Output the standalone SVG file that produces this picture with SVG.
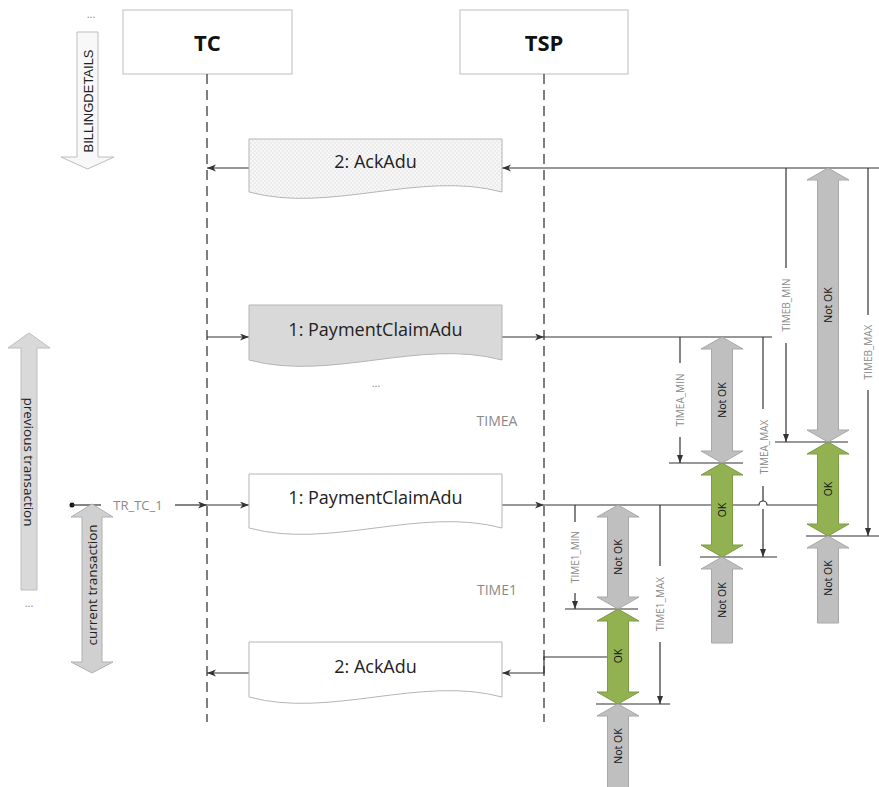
<svg xmlns="http://www.w3.org/2000/svg" width="879" height="787" viewBox="0 0 879 787">
<style>
text{font-family:"Open Sans","Liberation Sans",sans-serif}
.msg{font-size:18px;fill:#222;text-anchor:middle}
.hdr{font-size:22px;font-weight:bold;fill:#111;text-anchor:middle}
.tm{font-size:10px;fill:#8a8a8a;text-anchor:middle;dominant-baseline:central}
.ok{font-size:10.5px;fill:#111;text-anchor:middle;dominant-baseline:central}
.side{font-size:13.5px;fill:#222;text-anchor:middle;dominant-baseline:central}
.gtx{font-size:14px;fill:#8a8a8a;text-anchor:middle}
.life{stroke:#555;stroke-width:1.5;stroke-dasharray:10 6;fill:none}
.ln{stroke:#333;stroke-width:1.2;fill:none}
.tick{stroke:#333;stroke-width:1.2;fill:none}
.gray{fill:#bfbfbf;stroke:#a8a8a8;stroke-width:1}
.green{fill:#92b151;stroke:#7d9a45;stroke-width:1}
.box{stroke:#b5b5b5;stroke-width:1}
.hbox{fill:#fff;stroke:#c8c8c8;stroke-width:1.2}
</style>
<defs>
<marker id="ah" markerUnits="userSpaceOnUse" markerWidth="10" markerHeight="8" refX="9" refY="3.5" orient="auto">
<path d="M0,0 L9,3.5 L0,7 L2.5,3.5 z" fill="#333"/>
</marker>
<marker id="sa" markerUnits="userSpaceOnUse" markerWidth="8" markerHeight="7" refX="8" refY="3" orient="auto">
<path d="M0,0 L8,3 L0,6 z" fill="#333"/>
</marker>
<pattern id="chk" width="4" height="4" patternUnits="userSpaceOnUse">
<rect width="4" height="4" fill="#f7f7f7"/>
<rect width="2" height="2" fill="#ececec"/>
<rect x="2" y="2" width="2" height="2" fill="#ececec"/>
</pattern>
</defs>
<rect width="879" height="787" fill="#fff"/>

<!-- left side annotations -->
<g id="billingdetails">
<text x="91" y="18" class="gtx" style="font-size:11px">...</text>
<path d="M77,32 H98 V157 H114 L87.5,169 L61,157 H77 Z" fill="#f8f8f8" stroke="#bdbdbd"/>
<text class="side" transform="translate(88,101) rotate(-90)" style="font-family:'Liberation Sans',sans-serif;font-size:13px">BILLINGDETAILS</text>
</g>
<g id="previous-transaction">
<path d="M29,333 L50,348 H37 V590 H21 V348 H8 Z" fill="#d9d9d9" stroke="#bdbdbd"/>
<text class="side" transform="translate(29,462) rotate(90)">previous transaction</text>
<text x="29" y="607" class="gtx" style="font-size:11px">...</text>
</g>

<!-- lifelines -->
<g id="TC">
<rect x="123" y="10" width="169" height="64" class="hbox"/>
<text x="207.5" y="51" class="hdr">TC</text>
<line x1="207" y1="74" x2="207" y2="722" class="life"/>
</g>
<g id="TSP">
<rect x="460" y="10" width="168" height="64" class="hbox"/>
<text x="544" y="51" class="hdr">TSP</text>
<line x1="544" y1="74" x2="544" y2="722" class="life"/>
</g>

<!-- connectors -->
<g id="connectors">
<line x1="879" y1="168" x2="502" y2="168" class="ln" marker-end="url(#ah)"/>
<line x1="249" y1="168" x2="207" y2="168" class="ln" marker-end="url(#ah)"/>
<line x1="207" y1="337" x2="249" y2="337" class="ln" marker-end="url(#ah)"/>
<line x1="502" y1="337" x2="544" y2="337" class="ln" marker-end="url(#ah)"/>
<line x1="544" y1="337" x2="772" y2="337" class="ln"/>
<circle cx="72" cy="505" r="2.5" fill="#111"/>
<line x1="72" y1="505" x2="101" y2="505" class="ln"/>
<line x1="175" y1="505" x2="207" y2="505" class="ln" marker-end="url(#ah)"/>
<line x1="207" y1="505" x2="249" y2="505" class="ln" marker-end="url(#ah)"/>
<line x1="502" y1="505" x2="544" y2="505" class="ln" marker-end="url(#ah)"/>
<path d="M544,505 H759 A4,4 0 0 1 767,505 H817" class="ln"/>
<line x1="249" y1="673" x2="207" y2="673" class="ln" marker-end="url(#ah)"/>
<polyline points="608,657 544,657 544,673 502,673" class="ln" marker-end="url(#ah)"/>

<line x1="786" y1="168" x2="786" y2="268" class="ln"/>
<line x1="786" y1="343" x2="786" y2="442" class="ln" marker-end="url(#sa)"/>
<line x1="868" y1="168" x2="868" y2="315" class="ln"/>
<line x1="868" y1="390" x2="868" y2="536" class="ln" marker-end="url(#sa)"/>
<line x1="775" y1="442" x2="848" y2="442" class="tick"/>
<line x1="806" y1="536" x2="879" y2="536" class="tick"/>

<line x1="680" y1="337" x2="680" y2="363" class="ln"/>
<line x1="680" y1="437" x2="680" y2="463" class="ln" marker-end="url(#sa)"/>
<line x1="763" y1="337" x2="763" y2="409" class="ln"/>
<path d="M763,486 V501 M763,509 V557" class="ln" marker-end="url(#sa)"/>
<line x1="669" y1="463" x2="743" y2="463" class="tick"/>
<line x1="700" y1="557" x2="777" y2="557" class="tick"/>

<line x1="575" y1="505" x2="575" y2="522" class="ln"/>
<line x1="575" y1="593" x2="575" y2="609" class="ln" marker-end="url(#sa)"/>
<line x1="660" y1="505" x2="660" y2="566" class="ln"/>
<line x1="660" y1="642" x2="660" y2="704" class="ln" marker-end="url(#sa)"/>
<line x1="565" y1="609" x2="638" y2="609" class="tick"/>
<line x1="596" y1="704" x2="670" y2="704" class="tick"/>
</g>

<!-- messages -->
<g id="msg-ackadu-prev">
<path d="M249,139 H502 V192 C420,170 330,214 249,192 Z" fill="url(#chk)" class="box"/>
<text x="375.5" y="168" class="msg">2: AckAdu</text>
</g>
<g id="msg-paymentclaim-prev">
<path d="M249,305 H502 V360 C420,338 330,382 249,360 Z" fill="#d9d9d9" class="box"/>
<text x="375.5" y="336" class="msg">1: PaymentClaimAdu</text>
<text x="376" y="387" class="gtx" style="font-size:11px">...</text>
</g>
<g id="msg-paymentclaim">
<path d="M249,474 H502 V528 C420,506 330,550 249,528 Z" fill="#fff" class="box"/>
<text x="375.5" y="504" class="msg">1: PaymentClaimAdu</text>
</g>
<g id="msg-ackadu">
<path d="M249,642 H502 V697 C420,675 330,719 249,697 Z" fill="#fff" class="box"/>
<text x="375.5" y="673" class="msg">2: AckAdu</text>
</g>

<g id="labels">
<text x="497" y="426" class="gtx">TIMEA</text>
<text x="497" y="595" class="gtx">TIME1</text>
<text x="138" y="510" class="gtx" style="font-size:13px">TR_TC_1</text>
<text class="tm" transform="translate(786,305) rotate(-90)">TIMEB_MIN</text>
<text class="tm" transform="translate(868,352) rotate(-90)">TIMEB_MAX</text>
<text class="tm" transform="translate(680,400) rotate(-90)">TIMEA_MIN</text>
<text class="tm" transform="translate(764,447) rotate(-90)">TIMEA_MAX</text>
<text class="tm" transform="translate(575,557) rotate(-90)">TIME1_MIN</text>
<text class="tm" transform="translate(660,604) rotate(-90)">TIME1_MAX</text>
</g>

<g id="current-transaction">
<path d="M92,504 L113,517 H102 V662 H113 L92,673 L71,662 H82 V517 H71 Z" fill="#d0d0d0" stroke="#b0b0b0"/>
<text class="side" transform="translate(92,585) rotate(-90)">current transaction</text>
</g>

<g id="timeB">
<path d="M828,168 L849,180 H838.5 V430 H849 L828,442 L807,430 H817.5 V180 H807 Z" class="gray"/>
<text class="ok" transform="translate(828,305) rotate(-90)">Not OK</text>
<path d="M828,442 L849,454 H838.5 V524 H849 L828,536 L807,524 H817.5 V454 H807 Z" class="green"/>
<text class="ok" transform="translate(828,489) rotate(-90)">OK</text>
<path d="M828,536 L849,548 H838.5 V623 H817.5 V548 H807 Z" class="gray"/>
<text class="ok" transform="translate(828,578) rotate(-90)">Not OK</text>
</g>

<g id="timeA">
<path d="M722,337 L743,349 H732.5 V451 H743 L722,463 L701,451 H711.5 V349 H701 Z" class="gray"/>
<text class="ok" transform="translate(722,400) rotate(-90)">Not OK</text>
<path d="M722,463 L743,475 H732.5 V545 H743 L722,557 L701,545 H711.5 V475 H701 Z" class="green"/>
<text class="ok" transform="translate(722,510) rotate(-90)">OK</text>
<path d="M722,557 L743,569 H732.5 V643 H711.5 V569 H701 Z" class="gray"/>
<text class="ok" transform="translate(722,600) rotate(-90)">Not OK</text>
</g>

<g id="time1">
<path d="M618,505 L639,517 H628.5 V597 H639 L618,609 L597,597 H607.5 V517 H597 Z" class="gray"/>
<text class="ok" transform="translate(618,557) rotate(-90)">Not OK</text>
<path d="M618,609 L639,621 H628.5 V692 H639 L618,704 L597,692 H607.5 V621 H597 Z" class="green"/>
<text class="ok" transform="translate(618,656) rotate(-90)">OK</text>
<path d="M618,704 L639,716 H628.5 V790 H607.5 V716 H597 Z" class="gray"/>
<text class="ok" transform="translate(618,746) rotate(-90)">Not OK</text>
</g>
</svg>
